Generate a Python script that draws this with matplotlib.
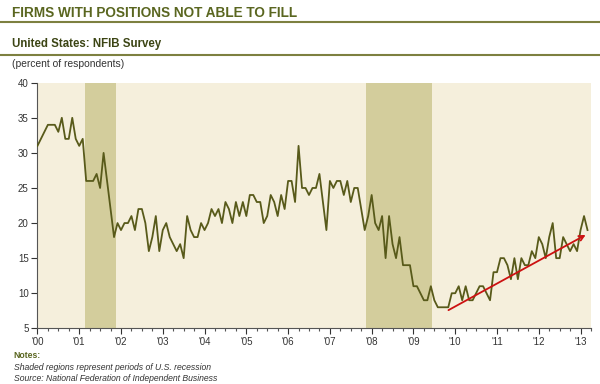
import matplotlib
matplotlib.use("Agg")
import matplotlib.pyplot as plt
import numpy as np

# NFIB: percent of firms with positions not able to fill, monthly Jan 2000 - Mar 2013
values = [
    31, 32, 33, 34, 34, 34, 33, 35, 32, 32, 35, 32,   # 2000
    31, 32, 26, 26, 26, 27, 25, 30, 26, 22, 18, 20,   # 2001
    19, 20, 20, 21, 19, 22, 22, 20, 16, 18, 21, 16,   # 2002
    19, 20, 18, 17, 16, 17, 15, 21, 19, 18, 18, 20,   # 2003
    19, 20, 22, 21, 22, 20, 23, 22, 20, 23, 21, 23,   # 2004
    21, 24, 24, 23, 23, 20, 21, 24, 23, 21, 24, 22,   # 2005
    26, 26, 23, 31, 25, 25, 24, 25, 25, 27, 23, 19,   # 2006
    26, 25, 26, 26, 24, 26, 23, 25, 25, 22, 19, 21,   # 2007
    24, 20, 19, 21, 15, 21, 17, 15, 18, 14, 14, 14,   # 2008
    11, 11, 10, 9, 9, 11, 9, 8, 8, 8, 8, 10,          # 2009
    10, 11, 9, 11, 9, 9, 10, 11, 11, 10, 9, 13,       # 2010
    13, 15, 15, 14, 12, 15, 12, 15, 14, 14, 16, 15,   # 2011
    18, 17, 15, 18, 20, 15, 15, 18, 17, 16, 17, 16,   # 2012
    19, 21, 19,                                       # 2013
]
years = np.arange(2000, 2014)
year_labels = ["'%02d" % (y % 100) for y in years]
recessions = [(2001.14, 2001.88), (2007.875, 2009.44)]
trend_start = (2009.78, 7.4)
trend_end = (2013.18, 18.5)

x = 2000 + np.arange(len(values)) / 12.0

fig = plt.figure(figsize=(6, 3.84), dpi=100)
plt.rcParams['font.family'] = ['Liberation Sans', 'DejaVu Sans']

# header text and rules
fig.text(0.02, 0.965, "FIRMS WITH POSITIONS NOT ABLE TO FILL", fontsize=9.8,
         fontweight='bold', color='#5a6620', va='center', ha='left')
fig.add_artist(plt.Line2D([0.0, 1.0], [0.942, 0.942], color='#7d8040', lw=1.5))
fig.text(0.02, 0.885, "United States: NFIB Survey", fontsize=8.3,
         fontweight='bold', color='#3c4514', va='center', ha='left')
fig.add_artist(plt.Line2D([0.0, 1.0], [0.858, 0.858], color='#7d8040', lw=1.5))
fig.text(0.02, 0.833, "(percent of respondents)", fontsize=7.4,
         color='#333333', va='center', ha='left')

ax = fig.add_axes([0.0617, 0.145, 0.9233, 0.6396])
ax.set_facecolor('#f5efdc')

for start, end in recessions:
    ax.axvspan(start, end, color='#d3cd9c', lw=0, zorder=1)

ax.plot(x, values, color='#585a1a', lw=1.3, zorder=3)

ax.annotate('', xy=trend_end, xytext=trend_start,
            arrowprops=dict(arrowstyle='->', color='#cc1111', lw=1.3,
                            mutation_scale=9), zorder=4)

ax.set_ylim(5, 40)
ax.set_yticks(np.arange(5, 41, 5))
ax.set_xlim(2000 - 0.01, 2000 + 158.3 / 12)
ax.set_xticks(years)
ax.set_xticklabels(year_labels)
ax.set_xticks(np.arange(2000, 2013.3, 0.25), minor=True)

for side in ['top', 'right']:
    ax.spines[side].set_visible(False)
for side in ['left', 'bottom']:
    ax.spines[side].set_color('#555555')
    ax.spines[side].set_linewidth(0.8)

ax.tick_params(axis='both', which='major', labelsize=7, colors='#333333',
               length=4, width=0.8, direction='out', pad=2)
ax.tick_params(axis='x', which='minor', length=2.5, width=0.8, color='#555555')

# notes
fig.text(0.023, 0.075, "Notes:", fontsize=6.2, fontweight='bold', color='#5a6620',
         va='center', ha='left')
fig.text(0.023, 0.044, "Shaded regions represent periods of U.S. recession",
         fontsize=6.2, style='italic', color='#333333', va='center', ha='left')
fig.text(0.023, 0.015, "Source: National Federation of Independent Business",
         fontsize=6.2, style='italic', color='#333333', va='center', ha='left')

fig.savefig('out.png', dpi=100)
plt.close(fig)
